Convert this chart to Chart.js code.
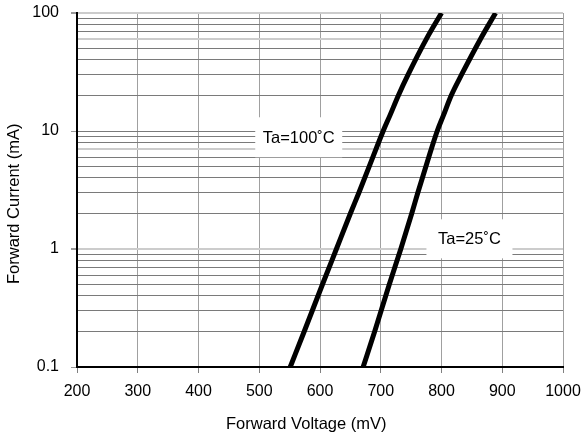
<!DOCTYPE html>
<html>
<head>
<meta charset="utf-8">
<script src="https://cdn.jsdelivr.net/npm/chart.js@4/dist/chart.umd.min.js"></script>
<style>
  body { margin: 0; background: #fff; }
  #wrap { width: 582px; height: 441px; }
</style>
</head>
<body>
<div id="wrap"><canvas id="mychart" width="582" height="441"></canvas></div>
<script>
// forward current (mA) points and the voltage (mV)
const current100 = [0.1, 0.2, 0.5, 1, 2, 3, 6, 10, 13.5, 20, 30, 60, 100];
const voltage100 = [551, 574, 604, 627, 650, 664, 687, 704, 715, 729, 745, 775, 800];
const current25 = [0.1, 0.2, 0.5, 1, 2, 3, 6, 10, 13.5, 20, 30, 60, 100];
const voltage25 = [671, 690, 714, 733, 751, 761, 779, 793, 803, 816, 833, 864, 889];

const xTicks = [200, 300, 400, 500, 600, 700, 800, 900, 1000];
const yDecades = [0.1, 1, 10];
const yTickLabels = {0.1: '0.1', 1: '1', 10: '10', 100: '100'};
const lightLines = [100, 60, 7, 1];

const curveLabels = [
    {text: 'Ta=100\u02DAC', x: 565, y: 8.85, w: 87, h: 40},
    {text: 'Ta=25\u02DAC', x: 846, y: 1.22, w: 86, h: 39}
];

let yGrid = [];
for (let i = 0; i < yDecades.length; i++) {
    for (let m = 1; m <= 9; m++) {
        yGrid.push(parseFloat((m * yDecades[i]).toPrecision(3)));
    }
}
yGrid.push(100);

function toPoints(xs, ys) {
    let pts = [];
    for (let i = 0; i < xs.length; i++) {
        pts.push({x: xs[i], y: ys[i]});
    }
    return pts;
}

const labelPlugin = {
    id: 'curveLabels',
    afterDatasetsDraw(chart) {
        const c = chart.ctx;
        const xs = chart.scales.x;
        const ys = chart.scales.y;
        c.save();
        c.font = '16.5px "Liberation Sans", Arial, sans-serif';
        c.textAlign = 'center';
        c.textBaseline = 'middle';
        curveLabels.forEach(function (l) {
            const px = xs.getPixelForValue(l.x);
            const py = ys.getPixelForValue(l.y);
            c.fillStyle = '#fff';
            c.fillRect(px - l.w / 2, py - l.h / 2, l.w, l.h);
            c.fillStyle = '#000';
            c.fillText(l.text, px, py + 1);
        });
        c.restore();
    }
};

const tickFont = {family: '"Liberation Sans", Arial, sans-serif', size: 16};
const titleFont = {family: '"Liberation Sans", Arial, sans-serif', size: 16.5};
// titles sit a little off centre, toward the origin (trailing spaces)
const pad = '      ';

const mychart = new Chart(document.getElementById('mychart'), {
    type: 'scatter',
    data: {
        datasets: [
            {
                label: 'Ta=100°C',
                data: toPoints(voltage100, current100),
                showLine: true,
                borderColor: '#000',
                borderWidth: 5,
                pointRadius: 0,
                cubicInterpolationMode: 'monotone'
            },
            {
                label: 'Ta=25°C',
                data: toPoints(voltage25, current25),
                showLine: true,
                borderColor: '#000',
                borderWidth: 5,
                pointRadius: 0,
                cubicInterpolationMode: 'monotone'
            }
        ]
    },
    options: {
        responsive: false,
        animation: false,
        layout: {padding: {top: 13, right: 19, left: 0, bottom: 0}},
        plugins: {legend: {display: false}, tooltip: {enabled: false}},
        scales: {
            x: {
                type: 'linear',
                min: 200,
                max: 1000,
                afterBuildTicks: function (scale) {
                    scale.ticks = xTicks.map(v => ({value: v}));
                },
                afterFit: function (scale) {
                    scale.height = 74;
                    scale.paddingLeft = 0;
                    scale.paddingRight = 0;
                },
                ticks: {
                    color: '#000',
                    font: tickFont,
                    padding: 9,
                    maxRotation: 0,
                    callback: function (value) { return String(value); }
                },
                grid: {color: '#a0a0a0', lineWidth: 1, tickLength: 6, tickColor: '#808080'},
                border: {color: '#000', width: 2},
                title: {display: true, text: 'Forward Voltage (mV)' + pad, color: '#000', font: titleFont, padding: {top: 4, bottom: 7}}
            },
            y: {
                type: 'logarithmic',
                min: 0.1,
                max: 100,
                afterBuildTicks: function (scale) {
                    scale.ticks = yGrid.map(v => ({value: v}));
                },
                afterFit: function (scale) {
                    scale.width = 77;
                    scale.paddingTop = 0;
                    scale.paddingBottom = 0;
                },
                ticks: {
                    color: '#000',
                    font: tickFont,
                    padding: 12,
                    autoSkip: false,
                    callback: function (value) {
                        return yTickLabels[value] || '';
                    }
                },
                grid: {
                    color: function (ctx) {
                        return lightLines.includes(ctx.tick.value) ? '#cccccc' : '#7a7a7a';
                    },
                    lineWidth: function (ctx) {
                        return lightLines.includes(ctx.tick.value) ? 2 : 1;
                    },
                    tickLength: 6,
                    tickColor: function (ctx) {
                        return yTickLabels[ctx.tick.value] ? '#999999' : 'rgba(0,0,0,0)';
                    }
                },
                border: {color: '#000', width: 2},
                title: {display: true, text: 'Forward Current (mA)' + pad, color: '#000', font: titleFont, padding: {top: 5, bottom: 4}}
            }
        }
    },
    plugins: [labelPlugin]
});
</script>
</body>
</html>
